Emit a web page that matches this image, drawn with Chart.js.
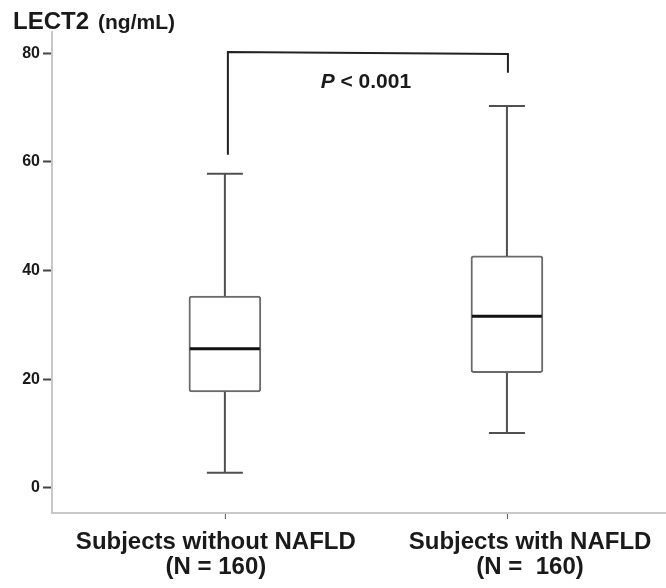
<!DOCTYPE html>
<html>
<head>
<meta charset="utf-8">
<script src="https://cdn.jsdelivr.net/npm/chart.js@4"></script>
<style>
  body { margin: 0; background: #fff; }
  #wrap { width: 666px; height: 588px; position: relative; }
</style>
</head>
<body>
<div id="wrap"><canvas id="lectChart"></canvas></div>
<script>
const categories = [['Subjects without NAFLD', '(N = 160)'], ['Subjects with NAFLD', '(N =  160)']];
const xPositions = [1, 2];
const whiskerMin = [2.8, 10.1];
const q1 = [17.7, 21.2];
const medians = [25.6, 31.6];
const q3 = [35.3, 42.7];
const whiskerMax = [57.8, 70.3];
const yTicks = [0, 20, 40, 60, 80];
// significance bracket: left end, top, right end
const bracketY = [61.3, 80.2, 76.4];
const pValueY = 74.7;

const FONT = '"Liberation Sans", Arial, sans-serif';
const INK = '#1a1a1a';
// the group labels sit a little off their boxes in the original
const labelShift = [-0.032, 0.082];

const boxExtras = {
  id: 'boxExtras',
  afterDatasetsDraw(chart) {
    const ctx = chart.ctx;
    const x = chart.scales.x, y = chart.scales.y;
    const capHalf = 18, boxHalf = 36;
    ctx.save();
    ctx.lineCap = 'butt';
    xPositions.forEach((xv, i) => {
      const px = x.getPixelForValue(xv);
      ctx.strokeStyle = '#505050';
      ctx.lineWidth = 2;
      ctx.beginPath();
      ctx.moveTo(px, y.getPixelForValue(q3[i]));
      ctx.lineTo(px, y.getPixelForValue(whiskerMax[i]));
      ctx.moveTo(px, y.getPixelForValue(q1[i]));
      ctx.lineTo(px, y.getPixelForValue(whiskerMin[i]));
      ctx.moveTo(px - capHalf, y.getPixelForValue(whiskerMax[i]));
      ctx.lineTo(px + capHalf, y.getPixelForValue(whiskerMax[i]));
      ctx.moveTo(px - capHalf, y.getPixelForValue(whiskerMin[i]));
      ctx.lineTo(px + capHalf, y.getPixelForValue(whiskerMin[i]));
      ctx.stroke();
      // median
      ctx.strokeStyle = '#111';
      ctx.lineWidth = 3;
      ctx.beginPath();
      ctx.moveTo(px - boxHalf + 1, y.getPixelForValue(medians[i]));
      ctx.lineTo(px + boxHalf - 1, y.getPixelForValue(medians[i]));
      ctx.stroke();
      // small category tick under the axis
      ctx.strokeStyle = '#555';
      ctx.lineWidth = 1;
      ctx.beginPath();
      ctx.moveTo(px + 0.5, y.bottom + 1);
      ctx.lineTo(px + 0.5, y.bottom + 6);
      ctx.stroke();
    });

    // bracket
    const bx1 = x.getPixelForValue(xPositions[0]) + 3;
    const bx2 = x.getPixelForValue(xPositions[1]) + 1;
    ctx.strokeStyle = '#222';
    ctx.lineWidth = 2;
    ctx.beginPath();
    ctx.moveTo(bx1, y.getPixelForValue(bracketY[0]));
    ctx.lineTo(bx1, y.getPixelForValue(bracketY[1]));
    ctx.lineTo(bx2, y.getPixelForValue(bracketY[1]) + 2);
    ctx.lineTo(bx2, y.getPixelForValue(bracketY[2]));
    ctx.stroke();

    // P value
    const pMid = x.getPixelForValue((xPositions[0] + xPositions[1]) / 2);
    const pY = y.getPixelForValue(pValueY);
    ctx.fillStyle = INK;
    ctx.textBaseline = 'middle';
    ctx.font = 'italic bold 21px ' + FONT;
    const wP = ctx.measureText('P').width;
    ctx.font = 'bold 21px ' + FONT;
    const rest = ' < 0.001';
    const wR = ctx.measureText(rest).width;
    const start = pMid - (wP + wR) / 2;
    ctx.font = 'italic bold 21px ' + FONT;
    ctx.fillText('P', start, pY);
    ctx.font = 'bold 21px ' + FONT;
    ctx.fillText(rest, start + wP, pY);

    // axis title
    ctx.textBaseline = 'alphabetic';
    ctx.font = 'bold 24px ' + FONT;
    ctx.fillText('LECT2', 13, 29);
    ctx.font = 'bold 21px ' + FONT;
    ctx.fillText('(ng/mL)', 98, 29);
    ctx.restore();
  }
};

new Chart(document.getElementById('lectChart'), {
  type: 'bar',
  data: {
    datasets: [{
      data: xPositions.map((xv, i) => ({ x: xv, y: [q1[i], q3[i]] })),
      backgroundColor: '#ffffff',
      borderColor: '#6a6a6a',
      borderWidth: 2,
      borderSkipped: false,
      borderRadius: 3,
      barThickness: 72
    }]
  },
  options: {
    responsive: true,
    maintainAspectRatio: false,
    animation: false,
    layout: { padding: { top: 32, left: 0, right: 0, bottom: 0 } },
    plugins: { legend: { display: false }, tooltip: { enabled: false } },
    scales: {
      x: {
        type: 'linear',
        offset: false,
        min: 0.387,
        max: 2.564,
        afterBuildTicks: s => { s.ticks = xPositions.map((v, i) => ({ value: v + labelShift[i] })); },
        afterFit: s => { s.height = 75; },
        border: { color: '#c8c8c8', width: 2 },
        grid: { offset: false, drawOnChartArea: false, tickLength: 5, tickColor: 'rgba(0,0,0,0)', tickWidth: 1 },
        ticks: {
          autoSkip: false,
          maxRotation: 0,
          padding: 12,
          color: INK,
          font: { family: FONT, size: 24, weight: 'bold', lineHeight: 1.05 },
          callback: (v, i) => categories[i]
        }
      },
      y: {
        min: -4.6,
        max: 83.9,
        afterBuildTicks: s => { s.ticks = yTicks.map(v => ({ value: v })); },
        afterFit: s => { s.width = 52; },
        border: { color: '#c8c8c8', width: 2 },
        grid: { drawOnChartArea: false, tickLength: 9, tickColor: '#444', tickWidth: 2 },
        ticks: {
          padding: 3,
          color: INK,
          font: { family: FONT, size: 16, weight: 'bold' }
        }
      }
    }
  },
  plugins: [boxExtras]
});
</script>
</body>
</html>
